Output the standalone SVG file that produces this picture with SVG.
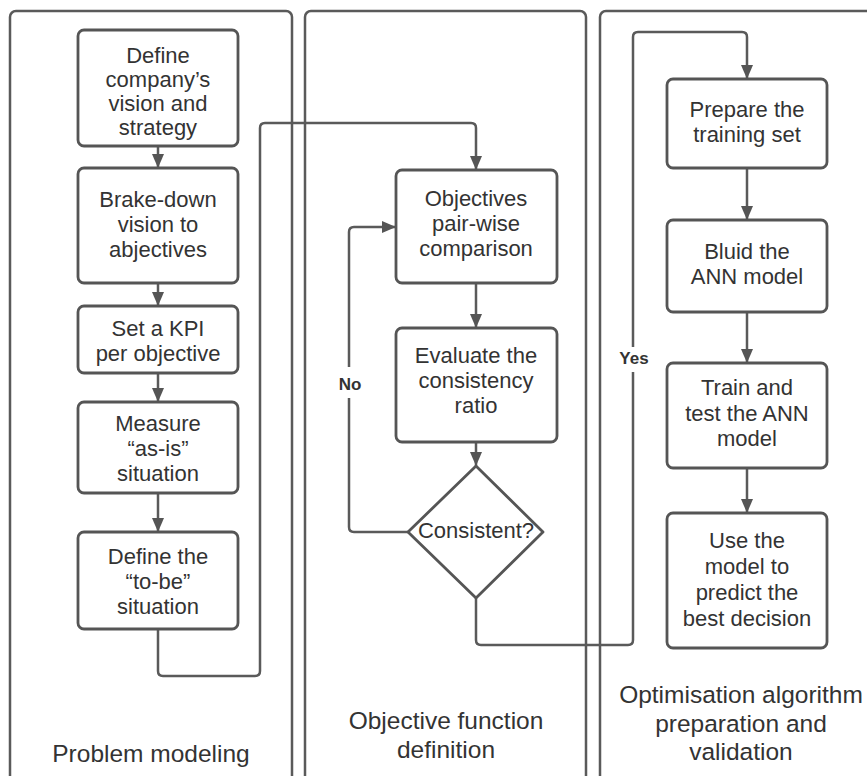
<svg xmlns="http://www.w3.org/2000/svg" width="867" height="776" viewBox="0 0 867 776">
<style>
.lane{fill:#fff;stroke:#5a5a5a;stroke-width:2.5}
.box{fill:#fff;stroke:#555;stroke-width:2.8}
.t{font-family:"Liberation Sans",Arial,sans-serif;font-size:22px;fill:#333;text-anchor:middle}
.lt{font-family:"Liberation Sans",Arial,sans-serif;font-size:24.5px;fill:#333;text-anchor:middle}
.lbl{font-family:"Liberation Sans",Arial,sans-serif;font-size:17px;font-weight:bold;fill:#333;text-anchor:middle}
.c{fill:none;stroke:#5a5a5a;stroke-width:2.5}
</style>
<defs>
<marker id="ah" viewBox="0 0 14 12" refX="14" refY="6" markerWidth="14" markerHeight="12" markerUnits="userSpaceOnUse" orient="auto">
<path d="M0,0 L14,6 L0,12 Z" fill="#555"/>
</marker>
</defs>
<rect width="867" height="776" fill="#fff"/>
<g id="lane1"><rect class="lane" x="10" y="11" width="282" height="790" rx="6"/><text class="lt" x="151" y="762">Problem modeling</text></g>
<g id="lane2"><rect class="lane" x="305" y="11" width="281" height="790" rx="6"/><text class="lt" x="446" y="729">Objective function</text><text class="lt" x="446" y="758">definition</text></g>
<g id="lane3"><rect class="lane" x="600" y="11" width="282" height="790" rx="6"/><text class="lt" x="741" y="703">Optimisation algorithm</text><text class="lt" x="741" y="732">preparation and</text><text class="lt" x="741" y="760">validation</text></g>

<g id="connectors">
<path class="c" d="M158,146 V168" marker-end="url(#ah)"/>
<path class="c" d="M158,283 V306" marker-end="url(#ah)"/>
<path class="c" d="M158,373 V402" marker-end="url(#ah)"/>
<path class="c" d="M158,493 V532" marker-end="url(#ah)"/>
<path class="c" d="M158,629 V671 Q158,676 163,676 H255 Q260,676 260,671 V128 Q260,123 265,123 H471 Q476,123 476,128 V170" marker-end="url(#ah)"/>
<path class="c" d="M476,283 V328" marker-end="url(#ah)"/>
<path class="c" d="M476,442 V466" marker-end="url(#ah)"/>
<path class="c" d="M408,532 H354 Q349,532 349,527 V398"/>
<path class="c" d="M349,367 V232 Q349,227 354,227 H396" marker-end="url(#ah)"/>
<path class="c" d="M476,598 V640 Q476,645 481,645 H628 Q633,645 633,640 V372"/>
<path class="c" d="M633,347 V37 Q633,32 638,32 H742 Q747,32 747,37 V79" marker-end="url(#ah)"/>
<path class="c" d="M747,168 V220" marker-end="url(#ah)"/>
<path class="c" d="M747,312 V363" marker-end="url(#ah)"/>
<path class="c" d="M747,468 V513" marker-end="url(#ah)"/>
<text class="lbl" x="350" y="390">No</text>
<text class="lbl" x="634" y="364">Yes</text>
</g>

<g id="n1"><rect class="box" x="78" y="30" width="160" height="116" rx="6"/><text class="t" x="158" y="63">Define</text><text class="t" x="158" y="87">company’s</text><text class="t" x="158" y="111">vision and</text><text class="t" x="158" y="135">strategy</text></g>
<g id="n2"><rect class="box" x="78" y="168" width="160" height="115" rx="6"/><text class="t" x="158" y="207">Brake-down</text><text class="t" x="158" y="232">vision to</text><text class="t" x="158" y="257">abjectives</text></g>
<g id="n3"><rect class="box" x="78" y="306" width="160" height="67" rx="6"/><text class="t" x="158" y="336">Set a KPI</text><text class="t" x="158" y="361">per objective</text></g>
<g id="n4"><rect class="box" x="78" y="402" width="160" height="91" rx="6"/><text class="t" x="158" y="431">Measure</text><text class="t" x="158" y="456">“as-is”</text><text class="t" x="158" y="481">situation</text></g>
<g id="n5"><rect class="box" x="78" y="532" width="160" height="97" rx="6"/><text class="t" x="158" y="564">Define the</text><text class="t" x="158" y="589">“to-be”</text><text class="t" x="158" y="614">situation</text></g>

<g id="n6"><rect class="box" x="396" y="170" width="161" height="113" rx="6"/><text class="t" x="476" y="206">Objectives</text><text class="t" x="476" y="231">pair-wise</text><text class="t" x="476" y="256">comparison</text></g>
<g id="n7"><rect class="box" x="396" y="328" width="161" height="114" rx="6"/><text class="t" x="476" y="363">Evaluate the</text><text class="t" x="476" y="388">consistency</text><text class="t" x="476" y="413">ratio</text></g>
<g id="n8"><path class="box" d="M476,466 L543,532 L476,598 L408,532 Z" stroke-linejoin="round"/><text class="t" x="476" y="538">Consistent?</text></g>

<g id="n9"><rect class="box" x="667" y="79" width="160" height="89" rx="6"/><text class="t" x="747" y="117">Prepare the</text><text class="t" x="747" y="142">training set</text></g>
<g id="n10"><rect class="box" x="667" y="220" width="160" height="92" rx="6"/><text class="t" x="747" y="259">Bluid the</text><text class="t" x="747" y="284">ANN model</text></g>
<g id="n11"><rect class="box" x="667" y="363" width="160" height="105" rx="6"/><text class="t" x="747" y="395">Train and</text><text class="t" x="747" y="421">test the ANN</text><text class="t" x="747" y="446">model</text></g>
<g id="n12"><rect class="box" x="667" y="513" width="160" height="135" rx="6"/><text class="t" x="747" y="548">Use the</text><text class="t" x="747" y="574">model to</text><text class="t" x="747" y="600">predict the</text><text class="t" x="747" y="626">best decision</text></g>
</svg>
